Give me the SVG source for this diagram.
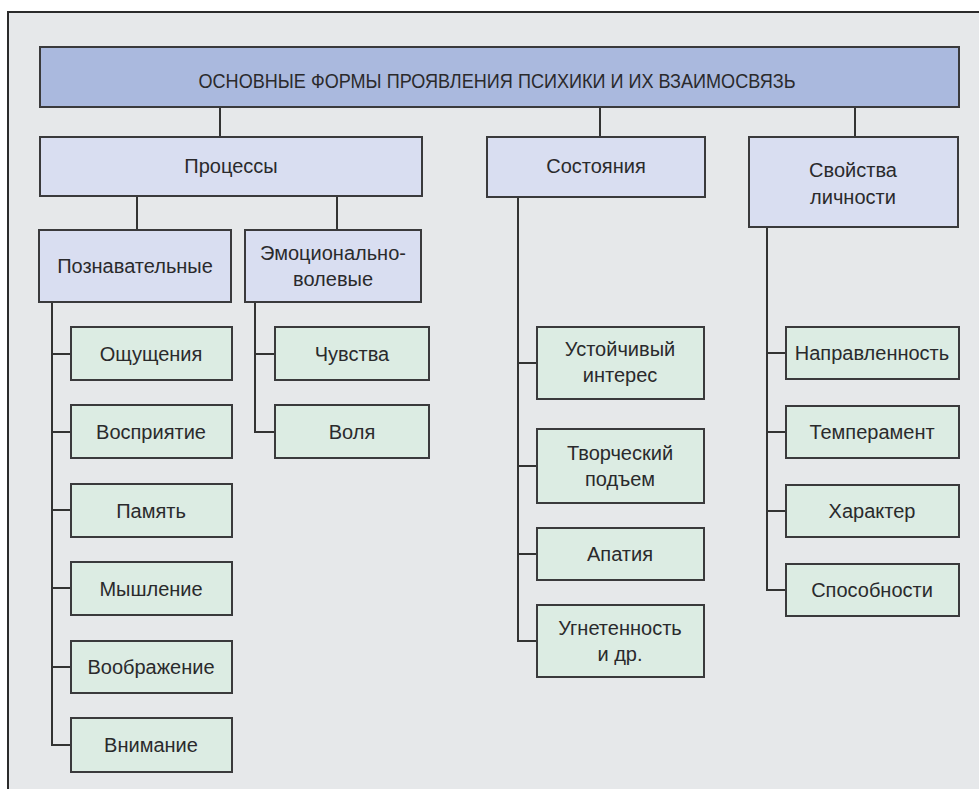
<svg xmlns="http://www.w3.org/2000/svg" width="979" height="789" viewBox="0 0 979 789">
<style>
.bg{fill:#e6e8ea}
.frame{fill:none;stroke:#2b2b2b;stroke-width:2}
.box{stroke:#3a3a3c;stroke-width:2}
.top{fill:#aab9de}
.l2{fill:#d9def1}
.leaf{fill:#dcece3}
.c{fill:none;stroke:#333;stroke-width:2}
text{font-family:"Liberation Sans",Arial,sans-serif;font-size:20px;fill:#2a2a2c;text-anchor:middle}
.t{font-size:21px}
</style>
<rect width="979" height="789" fill="#ffffff"/>
<rect class="bg" x="8" y="12" width="971" height="777"/>
<path class="frame" d="M8,789 V12 H979"/>

<g id="connectors">
<path class="c" d="M220,107 V137 M600,107 V137 M855,107 V137"/>
<path class="c" d="M137,196 V230 M337,196 V230"/>
<path class="c" d="M52,302 V745 H71 M52,354 H71 M52,432 H71 M52,510 H71 M52,588 H71 M52,667 H71"/>
<path class="c" d="M255,302 V432 H275 M255,354 H275"/>
<path class="c" d="M518,197 V641 H537 M518,363 H537 M518,466 H537 M518,554 H537"/>
<path class="c" d="M767,227 V590 H786 M767,353 H786 M767,432 H786 M767,511 H786"/>
</g>

<g id="title"><rect class="box top" x="40" y="47" width="919" height="60"/><text class="t" x="497" y="88" textLength="597" lengthAdjust="spacingAndGlyphs">ОСНОВНЫЕ ФОРМЫ ПРОЯВЛЕНИЯ ПСИХИКИ И ИХ ВЗАИМОСВЯЗЬ</text></g>

<g id="processes"><rect class="box l2" x="40" y="137" width="382" height="59"/><text x="231" y="173">Процессы</text></g>
<g id="states"><rect class="box l2" x="487" y="137" width="218" height="60"/><text x="596" y="173">Состояния</text></g>
<g id="personality"><rect class="box l2" x="749" y="137" width="209" height="90"/><text x="853" y="177">Свойства</text><text x="853" y="204">личности</text></g>

<g id="cognitive"><rect class="box l2" x="39" y="230" width="192" height="72"/><text x="135" y="273">Познавательные</text></g>
<g id="emotional"><rect class="box l2" x="245" y="230" width="176" height="72"/><text x="333" y="260">Эмоционально-</text><text x="333" y="286">волевые</text></g>

<g id="sensation"><rect class="box leaf" x="71" y="327" width="161" height="53"/><text x="151" y="361">Ощущения</text></g>
<g id="perception"><rect class="box leaf" x="71" y="405" width="161" height="53"/><text x="151" y="439">Восприятие</text></g>
<g id="memory"><rect class="box leaf" x="71" y="484" width="161" height="53"/><text x="151" y="518">Память</text></g>
<g id="thinking"><rect class="box leaf" x="71" y="562" width="161" height="53"/><text x="151" y="596">Мышление</text></g>
<g id="imagination"><rect class="box leaf" x="71" y="641" width="161" height="52"/><text x="151" y="674">Воображение</text></g>
<g id="attention"><rect class="box leaf" x="71" y="718" width="161" height="54"/><text x="151" y="752">Внимание</text></g>

<g id="feelings"><rect class="box leaf" x="275" y="327" width="154" height="53"/><text x="352" y="361">Чувства</text></g>
<g id="will"><rect class="box leaf" x="275" y="405" width="154" height="53"/><text x="352" y="439">Воля</text></g>

<g id="interest"><rect class="box leaf" x="537" y="327" width="167" height="72"/><text x="620" y="356">Устойчивый</text><text x="620" y="382">интерес</text></g>
<g id="creative"><rect class="box leaf" x="537" y="429" width="167" height="74"/><text x="620" y="460">Творческий</text><text x="620" y="486">подъем</text></g>
<g id="apathy"><rect class="box leaf" x="537" y="528" width="167" height="52"/><text x="620" y="561">Апатия</text></g>
<g id="depression"><rect class="box leaf" x="537" y="605" width="167" height="72"/><text x="620" y="635">Угнетенность</text><text x="620" y="661">и др.</text></g>

<g id="orientation"><rect class="box leaf" x="786" y="327" width="173" height="52"/><text x="872" y="360">Направленность</text></g>
<g id="temperament"><rect class="box leaf" x="786" y="406" width="173" height="52"/><text x="872" y="439">Темперамент</text></g>
<g id="character"><rect class="box leaf" x="786" y="485" width="173" height="52"/><text x="872" y="518">Характер</text></g>
<g id="abilities"><rect class="box leaf" x="786" y="564" width="173" height="52"/><text x="872" y="597">Способности</text></g>
</svg>
